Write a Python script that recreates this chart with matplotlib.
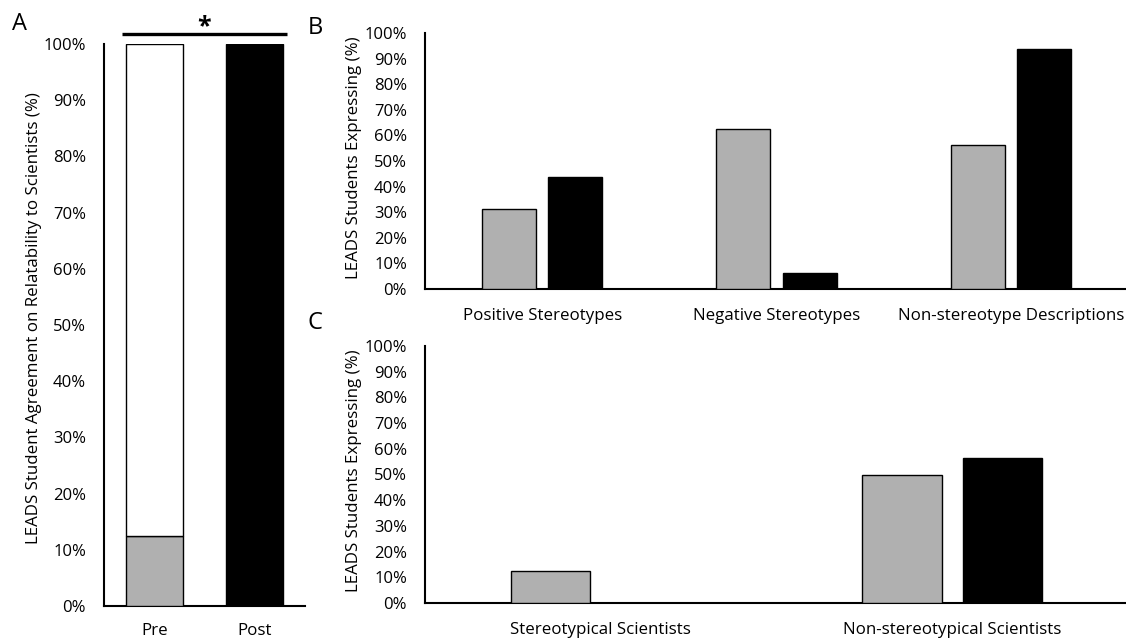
import matplotlib
matplotlib.use("Agg")
import matplotlib.pyplot as plt
import numpy as np
from matplotlib.ticker import PercentFormatter
from matplotlib import font_manager as fm

# ---- data ----
a_categories = ["Pre", "Post"]
a_agree = [12.5, 100.0]          # grey (pre) / black (post)
a_pre_rest = [87.5]              # white remainder of the Pre bar

b_categories = ["Positive Stereotypes", "Negative Stereotypes", "Non-stereotype Descriptions"]
b_pre = [31.25, 62.5, 56.25]
b_post = [43.75, 6.25, 93.75]

c_categories = ["Stereotypical Scientists", "Non-stereotypical Scientists"]
c_pre = [12.5, 50.0]
c_post = [0.0, 56.25]

yticks = list(range(0, 101, 10))

GREY = "#b0b0b0"
W, H = 1126, 639
fig = plt.figure(figsize=(W / 100, H / 100), dpi=100)

def frac(left, top, right, bottom):
    return [left / W, 1 - bottom / H, (right - left) / W, (bottom - top) / H]

wide = ["Open Sans", "DejaVu Sans"]
ytick_fp = fm.FontProperties(family=wide, size=12)
xtick_fp = fm.FontProperties(family=wide, size=12.2)

def style(ax):
    for s in ["top", "right"]:
        ax.spines[s].set_visible(False)
    for s in ["left", "bottom"]:
        ax.spines[s].set_linewidth(1.5)
        ax.spines[s].set_color("black")
    ax.tick_params(length=0)
    ax.set_ylim(0, 100)
    ax.set_yticks(yticks)
    ax.yaxis.set_major_formatter(PercentFormatter(decimals=0))

def fix_ticks(ax):
    for t in ax.get_yticklabels():
        t.set_fontproperties(ytick_fp)
    for t in ax.get_xticklabels():
        t.set_fontproperties(xtick_fp)

# ---- Panel A ----
axA = fig.add_axes(frac(104, 44, 305, 606))
xa = np.arange(len(a_categories))
axA.bar(xa[0], a_agree[0], width=0.57, color=GREY, edgecolor="black", linewidth=1.0, zorder=3)
axA.bar(xa[0], a_pre_rest[0], bottom=a_agree[0], width=0.57, color="white",
        edgecolor="black", linewidth=1.0, zorder=3)
axA.bar(xa[1], a_agree[1], width=0.57, color="black", edgecolor="black", linewidth=1.0, zorder=3)
axA.set_xlim(-0.5, 1.5)
axA.set_xticks(xa)
axA.set_xticklabels(a_categories)
style(axA)
axA.tick_params(axis="x", pad=12)
axA.tick_params(axis="y", pad=13)
fix_ticks(axA)
axA.set_ylabel("LEADS Student Agreement on Relatability to Scientists (%)",
               fontfamily=wide, fontsize=12.2)
axA.yaxis.set_label_coords(-62 / 201, 0.513)
axA.plot([-0.32, 1.32], [101.8, 101.8], color="black", lw=2.4, clip_on=False, solid_capstyle="butt")
axA.text(0.5, 100.8, "*", ha="center", va="bottom", fontsize=18, fontweight="bold",
         fontfamily=wide, clip_on=False)

# ---- Panel B ----
axB = fig.add_axes(frac(425, 33, 1128, 289))
xb = np.arange(len(b_categories))
bw = 0.23
off = 0.142
axB.bar(xb - off, b_pre, width=bw, color=GREY, edgecolor="black", linewidth=1.0, zorder=3)
axB.bar(xb + off, b_post, width=bw, color="black", edgecolor="black", linewidth=1.0, zorder=3)
axB.set_xlim(-0.5, 2.5)
axB.set_xticks(xb)
axB.set_xticklabels(b_categories)
style(axB)
axB.tick_params(axis="x", pad=14)
axB.tick_params(axis="y", pad=13)
fix_ticks(axB)
axB.set_ylabel("LEADS Students Expressing (%)", fontfamily=wide, fontsize=12.2)
axB.yaxis.set_label_coords(-63 / 703, 0.514)

# ---- Panel C ----
axC = fig.add_axes(frac(425, 346, 1128, 603))
xc = np.arange(len(c_categories))
bwc = 0.225
offc = 0.143
axC.bar(xc - offc, c_pre, width=bwc, color=GREY, edgecolor="black", linewidth=1.0, zorder=3)
axC.bar(xc + offc, c_post, width=bwc, color="black", edgecolor="black",
        linewidth=1.0, zorder=3)
axC.set_xlim(-0.5, 1.5)
axC.set_xticks(xc)
axC.set_xticklabels(c_categories)
style(axC)
axC.tick_params(axis="x", pad=14)
axC.tick_params(axis="y", pad=13)
fix_ticks(axC)
axC.set_ylabel("LEADS Students Expressing (%)", fontfamily=wide, fontsize=12.2)
axC.yaxis.set_label_coords(-63 / 703, 0.514)

# ---- panel letters ----
for letter, (px, py) in {"A": (20, 24), "B": (315, 28), "C": (315, 323)}.items():
    fig.text(px / W, 1 - py / H, letter, ha="center", va="center", fontsize=17,
             fontfamily=wide)

fig.savefig("out.png", dpi=100)
